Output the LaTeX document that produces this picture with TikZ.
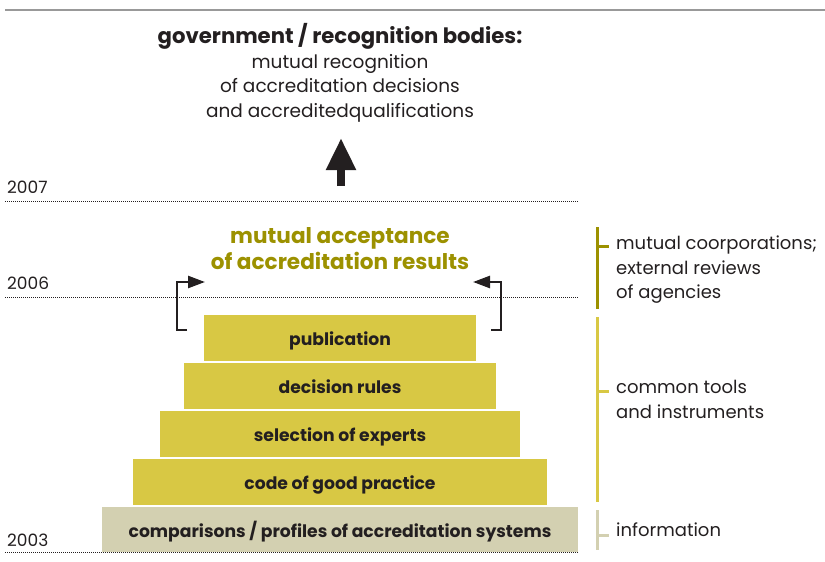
\documentclass[tikz,border=0pt]{standalone}
\usepackage{fontspec}
\setmainfont{Poppins}
\usetikzlibrary{arrows.meta}

\definecolor{accolive}{HTML}{9C9100}
\definecolor{accyellow}{HTML}{D8C844}
\definecolor{accbeige}{HTML}{D3D0B1}
\definecolor{textdark}{HTML}{231F20}

\tikzset{
  layer/.style={fill=accyellow, text=textdark, inner sep=0pt, minimum height=46pt,
    text height=15pt, text depth=0pt, font=\bfseries\fontsize{17.2}{20}\selectfont},
  yearline/.style={textdark, line width=1pt, dash pattern=on 1pt off 1pt},
  yearlabel/.style={anchor=base west, inner sep=0pt, text=textdark,
    font=\fontsize{17}{20}\selectfont},
  sidebar/.style={line width=3pt},
  sidetext/.style={anchor=north west, inner sep=0pt, align=left, text=textdark,
    font=\fontsize{18}{24.5}\selectfont},
  bracket/.style={textdark, line width=2.5pt, -{Triangle[width=12pt,length=17pt]}}
}

\begin{document}
\begin{tikzpicture}[x=1pt, y=-1pt]
  \useasboundingbox (0,0) rectangle (825,562);

  % Draw the top rule
  \draw[gray!80, line width=1.5pt] (5,10) -- (825,10);

  % Draw the year lines
  \draw[yearline] (5,201) -- (578,201);
  \draw[yearline] (5,297) -- (578,297);
  \draw[yearline] (5,552) -- (578,552);
  \node[yearlabel] (y2007) at (7,193) {2007};
  \node[yearlabel] (y2006) at (7,289) {2006};
  \node[yearlabel] (y2003) at (7,546) {2003};

  % Draw the heading on top
  \node[text=textdark, font=\bfseries\fontsize{21.2}{24}\selectfont] (gov) at (340,36)
    {government / recognition bodies:};
  \node[text=textdark, align=center, font=\fontsize{18.5}{24.5}\selectfont, below=-2pt] (recog) at (gov.south)
    {mutual recognition\\of accreditation decisions\\and accreditedqualifications};

  % Draw the big arrow
  \coordinate (arrowfoot) at (341,186);
  \coordinate (arrowtip) at (341,138);
  \draw[textdark, line width=8pt, -{Triangle[width=28pt,length=32pt]}] (arrowfoot) -- (arrowtip);

  % Draw the acceptance text and its brackets
  \node[text=accolive, align=center, font=\bfseries\fontsize{21.6}{26}\selectfont] (accept) at (340,249)
    {mutual acceptance\\of accreditation results};
  \coordinate (lbot) at (187,330);
  \coordinate (rbot) at (491,330);
  \draw[bracket] (lbot) -- (177,330) -- (177,282) -- (205,282);
  \draw[bracket] (rbot) -- (501,330) -- (501,282) -- (473,282);

  % Draw the pyramid
  \node[layer, minimum width=272pt] (publ) at (340,338) {publication};
  \node[layer, minimum width=312pt] (rules) at (340,386) {decision rules};
  \node[layer, minimum width=360pt] (experts) at (340,434) {selection of experts};
  \node[layer, minimum width=414pt] (code) at (340,482) {code of good practice};
  \node[layer, fill=accbeige, minimum width=476pt, minimum height=45pt] (compare) at (340,529.5)
    {comparisons / profiles of accreditation systems};

  % Draw the side bars and texts
  \draw[sidebar, accolive] (597,227) -- (597,309);
  \draw[sidebar, accolive] (597,246) -- (609,246);
  \draw[sidebar, accyellow] (597,317) -- (597,502);
  \draw[sidebar, accyellow] (597,391) -- (609,391);
  \draw[sidebar, accbeige] (597,510) -- (597,550);
  \draw[sidebar, accbeige] (597,535) -- (609,535);
  \node[sidetext] (coop) at (616,236) {mutual coorporations;\\external reviews\\of agencies};
  \node[sidetext] (tools) at (616,380) {common tools\\and instruments};
  \node[sidetext] (info) at (616,523) {information};
\end{tikzpicture}
\end{document}
